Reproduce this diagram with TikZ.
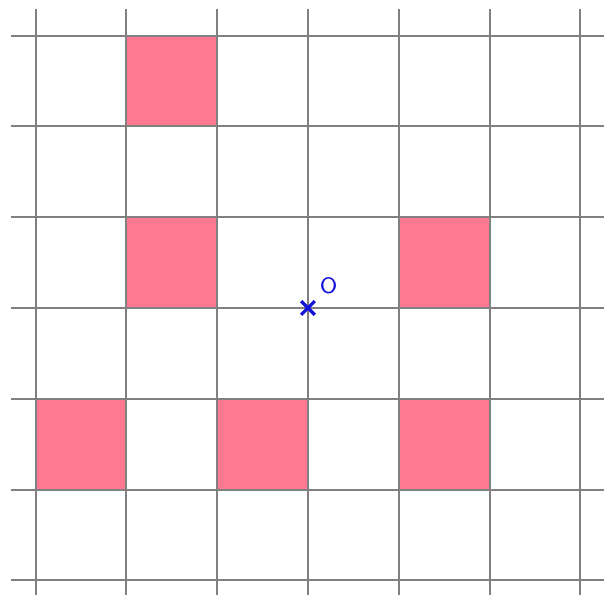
\documentclass[tikz,border=0pt]{standalone}
\usepackage{tikz}
\usetikzlibrary{positioning}
\definecolor{cellpink}{RGB}{255,122,145}
\definecolor{markblue}{RGB}{20,20,220}

\begin{document}
\begin{tikzpicture}[x=1cm, y=1cm]
                \useasboundingbox (-3.392,-3.150) rectangle (3.359,3.392);
                \foreach \i/\j in {-2/2, -2/0, 1/0, -3/-2, -1/-2, 1/-2}
                    \fill[cellpink] (\i,\j) rectangle ++(1,1);
                \foreach \k in {-3,...,3} {
                    \draw[gray, line width=0.6pt] (\k,-3.2) -- (\k,3.29);
                    \draw[gray, line width=0.6pt] (-3.27,\k) -- (3.26,\k);
                }
                \node[inner sep=0pt] (O) at (0,0) {};
                \draw[markblue, line width=1pt] (O.center) ++(-0.075,-0.075) -- ++(0.15,0.15) ++(-0.15,0) -- ++(0.15,-0.15);
                \node[markblue, font=\sffamily\scriptsize, inner sep=0pt, above right=0.12cm and 0.1cm of O] (Olabel) {O};
            \end{tikzpicture}
\end{document}
